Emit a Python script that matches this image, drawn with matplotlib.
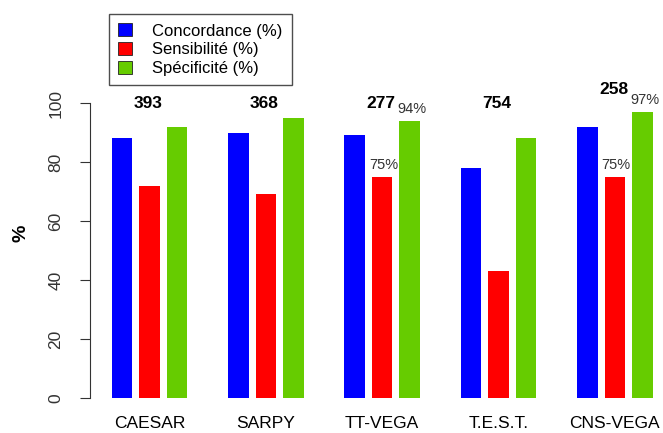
import matplotlib.pyplot as plt
import numpy as np

plt.rcParams["font.family"] = ["Liberation Sans", "DejaVu Sans"]

tools = ["CAESAR", "SARPY", "TT-VEGA", "T.E.S.T.", "CNS-VEGA"]
concordance = [88, 90, 89, 78, 92]
sensibilite = [72, 69, 75, 43, 75]
specificite = [92, 95, 94, 88, 97]
counts = [393, 368, 277, 754, 258]
series_names = ["Concordance (%)", "Sensibilité (%)", "Spécificité (%)"]
colors = ["#0000ff", "#ff0000", "#66cc00"]
# percentage labels shown only on some bars: (tool index, series index)
pct_labels = [(2, 1), (2, 2), (4, 1), (4, 2)]

W, H = 663, 433
fig = plt.figure(figsize=(W / 100, H / 100), dpi=100)
# axes: left spine at x=90px, value 0 at y=398px, value 100 at y=103px
ax = fig.add_axes([90 / W, (H - 398) / H, 570 / W, 295 / H])

group_pitch = 4.23
x = np.arange(len(tools)) * group_pitch
width = 0.745
series = [concordance, sensibilite, specificite]
for k, (vals, c, name) in enumerate(zip(series, colors, series_names)):
    ax.bar(x + (k - 1), vals, width, color=c, label=name,
           edgecolor="none", zorder=2)

ax.set_xlim(-2.16, 18.56)
ax.set_ylim(0, 100)

for i, n in enumerate(counts):
    top = max(concordance[i], sensibilite[i], specificite[i])
    y = 104.7 if top > 95 else 99.8
    ax.text(x[i] - 0.05, y, str(n), ha="center", va="center",
            fontsize=12.5, fontweight="bold", clip_on=False)

for i, k in pct_labels:
    v = series[k][i]
    ax.text(x[i] + (k - 1) + (0.1 if k == 2 else 0.05), v + 4, f"{v}%",
            ha="center", va="center", fontsize=10.5, color="#333333",
            clip_on=False)

for s in ["top", "right", "bottom"]:
    ax.spines[s].set_visible(False)
ax.spines["left"].set_color("#333333")
ax.set_xticks(x)
ax.set_xticklabels(tools, fontsize=12.5)
ax.tick_params(axis="x", length=0, pad=13)
ax.set_yticks([0, 20, 40, 60, 80, 100])
ax.tick_params(axis="y", labelsize=12.5, labelcolor="#333333",
               color="#333333", length=7, pad=12, labelrotation=90)
for lab in ax.get_yticklabels():
    lab.set_verticalalignment("center")
ax.set_ylabel("%", fontsize=14, fontweight="bold")
ax.yaxis.set_label_coords(-60 / 570, (398 - 233) / 295)

leg = fig.legend(loc="upper left", bbox_to_anchor=(109 / W, 1 - 14 / H),
                 frameon=True, fancybox=False, edgecolor="#222222",
                 fontsize=12, handlelength=0.85, handleheight=0.85,
                 borderpad=0.55, labelspacing=0.2, handletextpad=1.2,
                 borderaxespad=0)
leg.get_frame().set_linewidth(1.0)
for h in leg.legend_handles:
    h.set_edgecolor("#222222")
    h.set_linewidth(0.6)

fig.savefig("out.png", dpi=100)
